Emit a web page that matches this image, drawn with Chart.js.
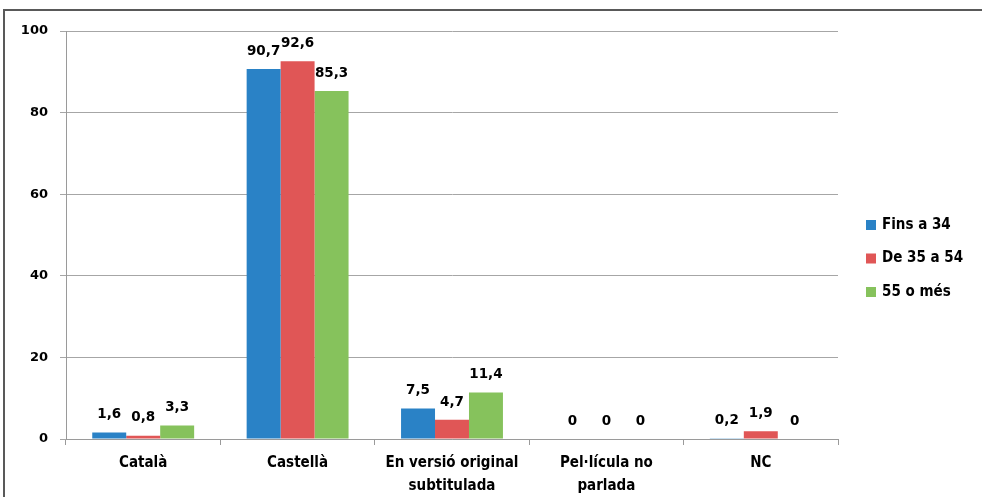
<!DOCTYPE html>
<html>
<head>
<meta charset="utf-8">
<script src="https://cdn.jsdelivr.net/npm/chart.js@4"></script>
<style>
  body { margin: 0; background: #fff; }
  #wrap { width: 982px; height: 497px; position: relative; }
</style>
</head>
<body>
<div id="wrap"><canvas id="myChart"></canvas></div>
<script>
// data
var labels = [['Català'], ['Castellà'], ['En versió original', 'subtitulada'], ['Pel·lícula no', 'parlada'], ['NC']];
var seriesNames = ['Fins a 34', 'De 35 a 54', '55 o més'];
var fins34 = [1.6, 90.7, 7.5, 0, 0.2];
var de35a54 = [0.8, 92.6, 4.7, 0, 1.9];
var mes55 = [3.3, 85.3, 11.4, 0, 0];
var yTicks = [0, 20, 40, 60, 80, 100];

var colors = ['#2A82C6', '#E05656', '#86C25C'];
var narrow = "'Liberation Sans Narrow', 'Arial Narrow', 'DejaVu Sans Condensed', sans-serif";
var numFont = "'DejaVu Sans', Verdana, sans-serif";

// outer frame + white background
var framePlugin = {
  id: 'frame',
  beforeDraw: function (chart) {
    var ctx = chart.ctx;
    ctx.save();
    ctx.fillStyle = '#fff';
    ctx.fillRect(0, 0, chart.width, chart.height);
    ctx.strokeStyle = '#595959';
    ctx.lineWidth = 2;
    ctx.strokeRect(4, 10, chart.width + 20, chart.height + 20);
    ctx.restore();
  }
};

// value labels above the bars
var valuePlugin = {
  id: 'values',
  afterDatasetsDraw: function (chart) {
    var ctx = chart.ctx;
    ctx.save();
    ctx.font = 'bold 13.5px ' + numFont;
    ctx.fillStyle = '#000';
    ctx.textAlign = 'center';
    ctx.textBaseline = 'bottom';
    chart.data.datasets.forEach(function (ds, i) {
      chart.getDatasetMeta(i).data.forEach(function (bar, j) {
        var txt = String(ds.data[j]).replace('.', ',');
        ctx.fillText(txt, bar.x, bar.y - 11);
      });
    });
    ctx.restore();
  }
};

// legend on the right
var legendPlugin = {
  id: 'sideLegend',
  afterDraw: function (chart) {
    var ctx = chart.ctx;
    ctx.save();
    ctx.font = 'bold 15px ' + narrow;
    ctx.textBaseline = 'middle';
    chart.data.datasets.forEach(function (ds, i) {
      var y = 225 + i * 33.5;
      ctx.fillStyle = ds.backgroundColor;
      ctx.fillRect(866, y - 5, 10, 10);
      ctx.fillStyle = '#000';
      ctx.fillText(ds.label, 882, y);
    });
    ctx.restore();
  }
};

var config = {
  type: 'bar',
  data: {
    labels: labels,
    datasets: [
      { label: seriesNames[0], data: fins34, backgroundColor: colors[0] },
      { label: seriesNames[1], data: de35a54, backgroundColor: colors[1] },
      { label: seriesNames[2], data: mes55, backgroundColor: colors[2] }
    ]
  },
  options: {
    responsive: true,
    maintainAspectRatio: false,
    animation: false,
    categoryPercentage: 0.66,
    barPercentage: 1,
    layout: {
      padding: { top: 31, right: 144, left: 0, bottom: 0 }
    },
    plugins: {
      legend: { display: false },
      tooltip: { enabled: false }
    },
    scales: {
      x: {
        grid: {
          offset: true,
          drawOnChartArea: false,
          color: '#9a9a9a',
          tickLength: 6
        },
        border: { color: '#9a9a9a' },
        ticks: {
          color: '#000',
          font: { family: narrow, size: 15, weight: 'bold', lineHeight: 1.5 },
          padding: 7,
          maxRotation: 0
        },
        afterFit: function (s) { s.height = 58; }
      },
      y: {
        min: 0,
        max: 100,
        afterBuildTicks: function (s) {
          s.ticks = yTicks.map(function (v) { return { value: v }; });
        },
        grid: {
          color: '#a6a6a6',
          tickLength: 6
        },
        border: { color: '#9a9a9a' },
        ticks: {
          color: '#000',
          font: { family: numFont, size: 13, weight: 'bold' },
          padding: 12
        },
        afterFit: function (s) { s.width = 66; }
      }
    }
  },
  plugins: [framePlugin, valuePlugin, legendPlugin]
};

// Create the chart
var myChart = new Chart(document.getElementById('myChart'), config);
</script>
</body>
</html>
